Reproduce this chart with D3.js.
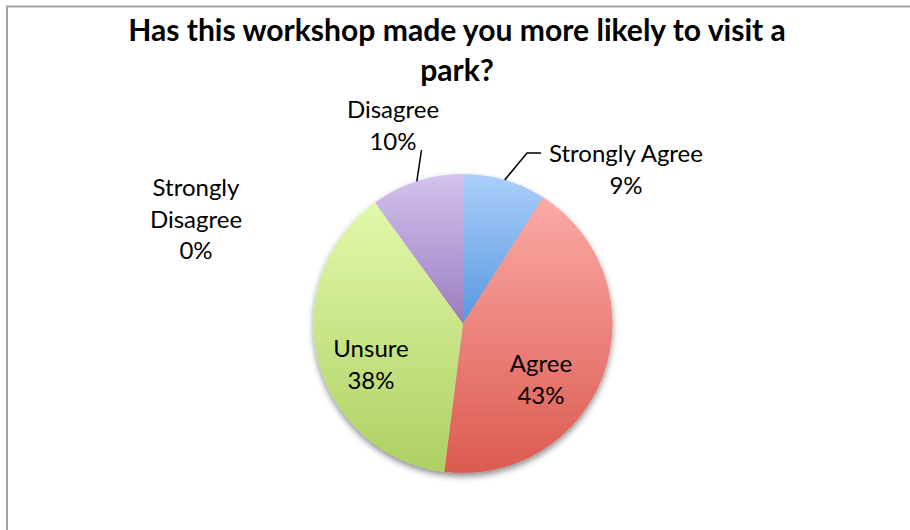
<!DOCTYPE html>
<html>
<head>
<meta charset="utf-8">
<script src="https://cdn.jsdelivr.net/npm/d3@7"></script>
<style>
  html, body { margin: 0; padding: 0; background: #ffffff; }
  svg { display: block; }
  text { font-family: Lato, "Open Sans", sans-serif; fill: #000; }
</style>
</head>
<body>
<svg id="chart" width="910" height="530"></svg>
<script>
// Survey responses (percent of respondents)
const categories = ["Strongly Agree", "Agree", "Unsure", "Strongly Disagree", "Disagree"];
const values = [9, 43, 38, 0, 10];
const titleLines = ["Has this workshop made you more likely to visit a", "park?"];

// Slice fills: top colour and bottom colour of a vertical gradient
const fillTop =    ["#accffb", "#fbaaa6", "#e2f8ab", "#d0bfec", "#d3c2ee"];
const fillBottom = ["#5897df", "#dc5a4f", "#aed062", "#8e74b8", "#9a7cc0"];

// Label anchors (centre x, first baseline y) and optional leader polylines
const labelLayout = {
  "Strongly Agree":    { x: 626, y: 162, leader: [[527, 153], [541, 153]] },
  "Agree":             { x: 541, y: 372 },
  "Unsure":            { x: 371, y: 357 },
  "Strongly Disagree": { x: 196, y: 196, split: true },
  "Disagree":          { x: 393, y: 118, leader: [[421.5, 150]] }
};

const W = 910, H = 530;
const cx = 463, cy = 323.5, R = 149.5;
const lineGap = 31.5;

const svg = d3.select("#chart");
const defs = svg.append("defs");

// Soft shadow under the pie
const shadow = defs.append("filter").attr("id", "pieShadow")
  .attr("x", "-20%").attr("y", "-20%").attr("width", "140%").attr("height", "140%");
shadow.append("feDropShadow")
  .attr("dx", 0).attr("dy", 3.5).attr("stdDeviation", 3)
  .attr("flood-color", "#000").attr("flood-opacity", 0.45);

categories.forEach((c, i) => {
  const g = defs.append("linearGradient").attr("id", "grad" + i)
    .attr("x1", 0).attr("y1", 0).attr("x2", 0).attr("y2", 1);
  g.append("stop").attr("offset", "0%").attr("stop-color", fillTop[i]);
  g.append("stop").attr("offset", "100%").attr("stop-color", fillBottom[i]);
});

// Chart frame
svg.append("rect")
  .attr("x", 7).attr("y", 6.5).attr("width", W + 20).attr("height", H + 20)
  .attr("fill", "none").attr("stroke", "#a3a3a3").attr("stroke-width", 2);

// Title, fitted to its line width
const title = svg.append("g");
const titleText = title.selectAll("text").data(titleLines).join("text")
  .attr("x", 457).attr("y", (d, i) => 41 + i * 39.5)
  .attr("text-anchor", "middle")
  .style("font-weight", "bold")
  .style("font-size", "28px")
  .text(d => d);
const w0 = titleText.nodes()[0].getComputedTextLength();
titleText.style("font-size", (28 * 658 / w0) + "px");

// Pie
const data = categories.map((c, i) => ({ category: c, value: values[i], index: i }));
const pie = d3.pie().value(d => d.value).sort(null);
const arc = d3.arc().innerRadius(0).outerRadius(R);
const arcs = pie(data);

const pieG = svg.append("g").attr("transform", `translate(${cx},${cy})`);
const slices = pieG.append("g").attr("filter", "url(#pieShadow)");
slices.selectAll("path")
  .data(arcs.filter(a => a.data.value > 0))
  .join("path")
  .attr("d", arc)
  .attr("fill", d => `url(#grad${d.data.index})`)
  .attr("stroke", "none");

// Leader lines: start on the pie edge at the slice's mid angle
const leaders = svg.append("g");
arcs.forEach(a => {
  const lay = labelLayout[a.data.category];
  if (!lay.leader) return;
  const mid = (a.startAngle + a.endAngle) / 2;
  const start = [cx + R * Math.sin(mid), cy - R * Math.cos(mid)];
  const pts = [start].concat(lay.leader);
  leaders.append("path")
    .attr("d", d3.line()(pts))
    .attr("fill", "none").attr("stroke", "#000").attr("stroke-width", 1.5);
});

// Data labels: category name and percentage
const labels = svg.append("g");
arcs.forEach(a => {
  const lay = labelLayout[a.data.category];
  const lines = lay.split ? a.data.category.split(" ") : [a.data.category];
  lines.push(a.data.value + "%");
  const t = labels.append("text")
    .attr("text-anchor", "middle")
    .style("font-size", "24px");
  lines.forEach((ln, i) => {
    t.append("tspan").attr("x", lay.x).attr("y", lay.y + i * lineGap).text(ln);
  });
});
</script>
</body>
</html>
